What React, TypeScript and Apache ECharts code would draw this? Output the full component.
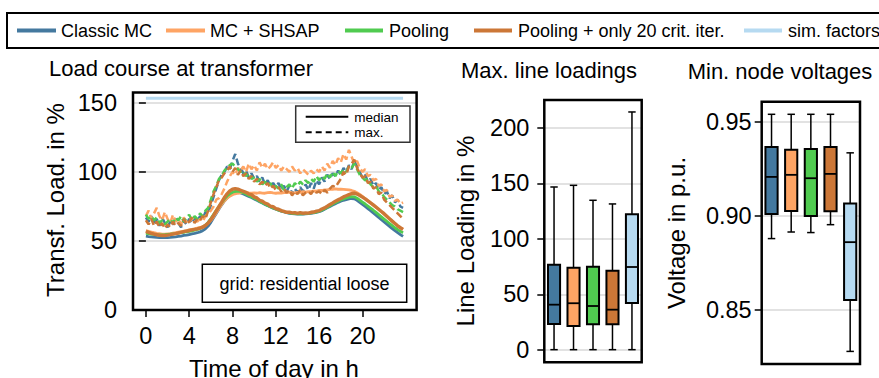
import React, { useEffect, useRef } from "react";
import * as echarts from "echarts";

// ---------- data ----------
const methods = ["Classic MC", "MC + SHSAP", "Pooling", "Pooling + only 20 crit. iter.", "sim. factors"];
const methodColors = ["#44799f", "#fea464", "#50cb50", "#cc7737", "#b6daf1"];

const xTickValues = [0, 4, 8, 12, 16, 20];
const loadTickValues = [0, 50, 100, 150];
const lineTickValues = [0, 50, 100, 150, 200];
const voltTickValues = [0.85, 0.9, 0.95];

// transformer load in % at 15-min resolution (96 steps, 0:00 .. 23:45)
const classicMed = [
  53.5, 53.2, 53.0, 52.8, 52.6, 52.5, 52.4, 52.4, 52.5, 52.6, 52.8, 53.0,
  53.3, 53.6, 54.0, 54.3, 54.7, 55.1, 55.5, 56.0, 56.6, 57.5, 58.8, 60.8,
  63.5, 66.8, 70.0, 73.2, 76.2, 79.0, 81.2, 83.0, 84.2, 85.0, 85.2, 84.8,
  84.0, 83.2, 82.3, 81.5, 80.5, 79.5, 78.5, 77.5, 76.5, 75.5, 74.7, 73.8,
  73.0, 72.3, 71.6, 71.0, 70.5, 70.0, 69.8, 69.6, 69.5, 69.5, 69.4, 69.6,
  69.8, 70.0, 70.3, 70.7, 71.2, 72.0, 73.0, 74.0, 75.0, 76.0, 77.0, 78.0,
  78.8, 79.5, 80.0, 80.5, 80.8, 80.6, 79.5, 78.0, 76.5, 75.0, 73.5, 72.0,
  70.3, 68.7, 67.0, 65.4, 63.8, 62.2, 60.6, 59.0, 57.5, 56.0, 54.6, 53.3,
];
const shsapMed = [
  57.5, 57.0, 56.5, 56.0, 55.6, 55.3, 55.0, 55.0, 55.2, 55.4, 55.7, 56.0,
  56.4, 56.8, 57.2, 57.6, 58.0, 58.4, 58.8, 59.3, 59.8, 60.5, 61.5, 63.0,
  65.0, 67.5, 70.5, 73.5, 76.5, 79.0, 81.0, 82.5, 83.5, 84.2, 84.6, 84.8,
  85.0, 85.3, 84.8, 84.6, 84.9, 84.6, 85.1, 84.7, 84.6, 85.0, 85.2, 84.8,
  84.6, 84.9, 84.7, 85.1, 85.0, 85.4, 85.0, 84.8, 85.2, 85.3, 85.7, 85.4,
  85.8, 85.8, 86.3, 86.2, 86.6, 86.6, 87.1, 87.0, 87.4, 87.4, 87.7, 87.5,
  87.6, 87.4, 87.2, 87.0, 86.6, 86.0, 85.0, 83.8, 82.4, 80.8, 79.2, 77.6,
  76.0, 74.4, 72.8, 71.2, 69.5, 67.8, 66.0, 64.3, 62.6, 61.0, 59.6, 58.5,
];
const poolMed = [
  55.5, 55.3, 55.0, 54.8, 54.6, 54.5, 54.5, 54.6, 54.8, 55.0, 55.2, 55.4,
  55.7, 56.0, 56.3, 56.7, 57.0, 57.4, 57.9, 58.4, 59.0, 60.0, 61.4, 63.5,
  66.2, 69.2, 72.2, 75.0, 77.8, 80.4, 82.6, 84.2, 85.3, 86.0, 86.2, 85.8,
  85.0, 84.0, 83.0, 82.0, 81.0, 80.0, 78.8, 77.8, 76.8, 75.8, 74.8, 74.0,
  73.2, 72.4, 71.8, 71.2, 70.7, 70.3, 70.0, 69.8, 69.7, 69.6, 69.6, 69.8,
  70.0, 70.3, 70.6, 71.0, 71.6, 72.4, 73.4, 74.5, 75.6, 76.7, 77.8, 78.8,
  79.7, 80.5, 81.2, 81.8, 82.2, 82.0, 81.0, 79.6, 78.2, 76.8, 75.3, 73.8,
  72.3, 70.7, 69.1, 67.5, 65.9, 64.3, 62.7, 61.1, 59.6, 58.2, 57.0, 56.0,
];
const pool20Med = [
  57.0, 56.2, 55.5, 55.0, 54.5, 54.2, 54.0, 54.0, 54.3, 54.6, 55.0, 55.4,
  55.8, 56.3, 56.8, 57.2, 57.6, 58.0, 58.4, 58.8, 59.3, 60.0, 61.2, 63.0,
  65.5, 68.5, 71.8, 75.0, 78.2, 81.5, 84.2, 86.3, 87.5, 88.0, 87.6, 86.8,
  86.0, 85.2, 84.0, 83.6, 82.0, 81.2, 79.5, 78.9, 77.5, 76.8, 75.2, 74.9,
  73.5, 73.0, 72.0, 71.4, 70.8, 70.9, 70.4, 70.6, 70.0, 70.5, 70.1, 70.3,
  70.2, 70.8, 71.0, 71.6, 72.0, 73.2, 74.0, 75.2, 76.5, 77.6, 78.8, 79.8,
  80.8, 82.0, 82.8, 83.6, 84.3, 84.6, 84.0, 83.0, 81.8, 80.5, 79.0, 77.6,
  76.2, 74.6, 73.0, 71.4, 69.8, 68.0, 66.2, 64.4, 62.7, 61.0, 59.6, 58.4,
];
const classicMax = [
  67, 64, 68, 62, 66, 61, 67, 63, 60, 64, 62, 66,
  63, 60, 65, 62, 66, 63, 67, 64, 68, 66, 71, 70,
  76, 82, 88, 94, 98, 100, 104, 102, 108, 113, 106, 103,
  99, 101, 96, 99, 95, 97, 93, 96, 91, 94, 90, 92,
  89, 92, 87, 90, 86, 90, 84, 88, 85, 89, 86, 91,
  87, 92, 88, 94, 91, 96, 93, 98, 95, 99, 97, 101,
  98, 103, 100, 105, 102, 108, 104, 100, 96, 98, 93, 95,
  90, 92, 87, 89, 84, 86, 81, 83, 78, 80, 75, 74,
];
const shsapMax = [
  68, 72, 66, 70, 74, 68, 65, 71, 66, 63, 69, 64,
  66, 62, 67, 64, 63, 67, 65, 64, 66, 64, 68, 70,
  72, 75, 80, 81, 84, 88, 93, 97, 100, 98, 103, 101,
  104, 100, 106, 102, 105, 101, 107, 103, 106, 102, 104, 107,
  103, 105, 101, 104, 102, 100, 104, 101, 103, 99, 102, 100,
  98, 101, 99, 102, 100, 104, 101, 106, 103, 108, 105, 110,
  107, 113, 109, 116, 111, 106, 108, 103, 100, 102, 97, 98,
  94, 95, 90, 91, 86, 87, 82, 83, 79, 80, 77, 78,
];
const poolMax = [
  69, 66, 68, 65, 67, 63, 65, 62, 64, 66, 63, 67,
  65, 68, 64, 67, 69, 65, 68, 66, 70, 68, 72, 74,
  80, 86, 90, 95, 97, 101, 103, 105, 106, 104, 102, 100,
  101, 97, 99, 95, 96, 93, 95, 91, 93, 90, 92, 88,
  90, 88, 91, 87, 89, 91, 88, 92, 90, 93, 91, 94,
  92, 95, 93, 97, 94, 97, 95, 99, 96, 100, 97, 101,
  99, 102, 100, 104, 103, 106, 102, 98, 96, 94, 95, 91,
  89, 90, 86, 85, 82, 80, 78, 76, 75, 73, 72, 71,
];
const pool20Max = [
  65, 62, 66, 61, 64, 60, 63, 59, 62, 60, 64, 61,
  63, 61, 66, 62, 64, 67, 63, 66, 65, 68, 66, 72,
  78, 84, 89, 94, 96, 99, 101, 104, 100, 103, 98, 101,
  97, 99, 95, 97, 93, 95, 91, 93, 90, 92, 88, 90,
  87, 89, 86, 88, 85, 87, 83, 86, 84, 87, 83, 85,
  86, 84, 87, 85, 86, 84, 87, 85, 88, 90, 89, 92,
  95, 100, 98, 104, 106, 109, 103, 99, 96, 97, 92, 93,
  88, 89, 84, 85, 80, 78, 76, 74, 72, 70, 68, 66,
];
const simFactorLoad = 153.4;

// box statistics: [lower whisker, Q1, median, Q3, upper whisker]
const lineLoadBoxes = [
  [0, 23.2, 40.6, 76.7, 146.8],
  [0, 21.4, 41.9, 74.0, 148.3],
  [0, 22.9, 39.4, 74.9, 134.8],
  [0, 22.9, 36.1, 71.3, 131.5],
  [0, 42.1, 74.6, 122.2, 214.5],
];
const voltageBoxes = [
  [0.8878, 0.9009, 0.9206, 0.9365, 0.9539],
  [0.8913, 0.9025, 0.9217, 0.935, 0.9539],
  [0.891, 0.8998, 0.9199, 0.9355, 0.9539],
  [0.8952, 0.9023, 0.9222, 0.9365, 0.9539],
  [0.8278, 0.8551, 0.8859, 0.9064, 0.9334],
];

// ---------- layout ----------
const FONT = "'Liberation Sans', Arial, Helvetica, sans-serif";
const G0 = { left: 133, top: 92.5, width: 283.6, height: 217.5 };
const G1 = { left: 544.3, top: 100, width: 97.4, height: 262.3 };
const G2 = { left: 761.7, top: 101.7, width: 98.3, height: 262.3 };

const hours = classicMed.map((_, i) => i / 4);
const toXY = (arr: number[]) => arr.map((v, i) => [hours[i], v]);

function boxRender(params: any, api: any) {
  const idx = api.value(0);
  const lo = api.coord([idx, api.value(1)]);
  const q1 = api.coord([idx, api.value(2)]);
  const med = api.coord([idx, api.value(3)]);
  const q3 = api.coord([idx, api.value(4)]);
  const hi = api.coord([idx, api.value(5)]);
  const band = api.size([1, 0])[0];
  const hw = band * 0.31;
  const cw = band * 0.19;
  const x = lo[0];
  const ws = { stroke: "#000", lineWidth: 1.5 };
  return {
    type: "group",
    children: [
      { type: "line", shape: { x1: x, y1: hi[1], x2: x, y2: q3[1] }, style: ws },
      { type: "line", shape: { x1: x, y1: q1[1], x2: x, y2: lo[1] }, style: ws },
      { type: "line", shape: { x1: x - cw, y1: hi[1], x2: x + cw, y2: hi[1] }, style: ws },
      { type: "line", shape: { x1: x - cw, y1: lo[1], x2: x + cw, y2: lo[1] }, style: ws },
      {
        type: "rect",
        shape: { x: x - hw, y: q3[1], width: 2 * hw, height: q1[1] - q3[1] },
        style: { fill: methodColors[idx], stroke: "#000", lineWidth: 2 },
      },
      { type: "line", shape: { x1: x - hw, y1: med[1], x2: x + hw, y2: med[1] }, style: { stroke: "#000", lineWidth: 1.8 } },
    ],
  };
}

function txt(text: string, x: number, y: number, size: number, opts: any = {}) {
  return {
    type: "text",
    x,
    y,
    rotation: opts.rotation || 0,
    z: 110,
    style: {
      text,
      fill: "#000",
      fontSize: size,
      fontFamily: FONT,
      align: opts.align || "center",
      verticalAlign: "middle",
    },
  };
}

export default function App() {
  const ref = useRef<HTMLDivElement>(null);
  useEffect(() => {
    if (!ref.current) return;
    const chart = echarts.init(ref.current, null, { renderer: "svg" });

    const labelStyle = { color: "#000", fontSize: 23.5, fontFamily: FONT };
    const tickStyle = { show: true, length: 7, lineStyle: { color: "#000", width: 1.5 } };
    const gridLine = { show: true, lineStyle: { color: "#d9d9d9", width: 1.5 } };

    const lineSeries: any[] = [];
    const medArrs = [classicMed, shsapMed, poolMed, pool20Med];
    const maxArrs = [classicMax, shsapMax, poolMax, pool20Max];
    lineSeries.push({
      type: "line",
      name: methods[4],
      xAxisIndex: 0,
      yAxisIndex: 0,
      data: [[hours[0], simFactorLoad], [hours[hours.length - 1], simFactorLoad]],
      showSymbol: false,
      symbol: "none",
      lineStyle: { color: methodColors[4], width: 3 },
      z: 2,
    });
    for (let k = 0; k < 4; k++) {
      lineSeries.push({
        type: "line",
        name: methods[k],
        xAxisIndex: 0,
        yAxisIndex: 0,
        data: toXY(medArrs[k]),
        showSymbol: false,
        symbol: "none",
        lineStyle: { color: methodColors[k], width: k === 3 ? 3.4 : 2.8 },
        z: 3 + k * 2,
      });
      lineSeries.push({
        type: "line",
        name: methods[k],
        xAxisIndex: 0,
        yAxisIndex: 0,
        data: toXY(maxArrs[k]),
        showSymbol: false,
        symbol: "none",
        lineStyle: { color: methodColors[k], width: 2.5, type: [7, 3.5] },
        z: 4 + k * 2,
      });
    }

    const legendItems = [
      { x1: 17, x2: 56, tx: 61 },
      { x1: 166, x2: 205, tx: 210 },
      { x1: 345, x2: 383, tx: 389 },
      { x1: 474, x2: 512, tx: 518 },
      { x1: 744, x2: 782, tx: 788 },
    ];
    const legendGraphics: any[] = [
      {
        type: "rect",
        z: 100,
        shape: { x: 7, y: 13, width: 900, height: 35 },
        style: { fill: "#fff", stroke: "#000", lineWidth: 2 },
      },
    ];
    legendItems.forEach((it, i) => {
      legendGraphics.push({
        type: "line",
        z: 105,
        shape: { x1: it.x1, y1: 30.5, x2: it.x2, y2: 30.5 },
        style: { stroke: methodColors[i], lineWidth: 4 },
      });
      legendGraphics.push(txt(methods[i], it.tx, 30.5, 18, { align: "left" }));
    });

    const frame = (g: any) => ({
      type: "rect",
      z: 100,
      shape: { x: g.left, y: g.top, width: g.width, height: g.height },
      style: { fill: "none", stroke: "#000", lineWidth: 2.5 },
    });

    const option: any = {
      animation: false,
      backgroundColor: "#fff",
      textStyle: { fontFamily: FONT },
      grid: [
        { ...G0, containLabel: false },
        { ...G1, containLabel: false },
        { ...G2, containLabel: false },
      ],
      xAxis: [
        {
          type: "value",
          gridIndex: 0,
          min: -1.19,
          max: 25.0,
          axisLine: { show: false },
          axisTick: { ...tickStyle, customValues: xTickValues },
          axisLabel: { ...labelStyle, margin: 14, customValues: xTickValues },
          splitLine: { show: false },
        },
        {
          type: "category",
          gridIndex: 1,
          data: methods,
          axisLine: { show: false },
          axisTick: { show: false },
          axisLabel: { show: false },
          splitLine: { show: false },
        },
        {
          type: "category",
          gridIndex: 2,
          data: methods,
          axisLine: { show: false },
          axisTick: { show: false },
          axisLabel: { show: false },
          splitLine: { show: false },
        },
      ],
      yAxis: [
        {
          type: "value",
          gridIndex: 0,
          min: 0,
          max: 157.6,
          interval: 50,
          axisLine: { show: false },
          axisTick: { ...tickStyle, customValues: loadTickValues },
          axisLabel: { ...labelStyle, margin: 16, customValues: loadTickValues },
          splitLine: gridLine,
        },
        {
          type: "value",
          gridIndex: 1,
          min: -11.4,
          max: 225.3,
          splitNumber: 5,
          axisLine: { show: false },
          axisTick: { ...tickStyle, customValues: lineTickValues },
          axisLabel: { ...labelStyle, margin: 15, customValues: lineTickValues },
          splitLine: gridLine,
        },
        {
          type: "value",
          gridIndex: 2,
          min: 0.8211,
          max: 0.9606,
          splitNumber: 3,
          axisLine: { show: false },
          axisTick: { ...tickStyle, customValues: voltTickValues },
          axisLabel: {
            ...labelStyle,
            margin: 10,
            customValues: voltTickValues,
            formatter: (v: number) => v.toFixed(2),
          },
          splitLine: gridLine,
        },
      ],
      series: [
        ...lineSeries,
        {
          type: "custom",
          name: "Max. line loadings",
          xAxisIndex: 1,
          yAxisIndex: 1,
          renderItem: boxRender,
          encode: { x: 0, y: [1, 2, 3, 4, 5] },
          data: lineLoadBoxes.map((b, i) => [i, ...b]),
          z: 5,
        },
        {
          type: "custom",
          name: "Min. node voltages",
          xAxisIndex: 2,
          yAxisIndex: 2,
          renderItem: boxRender,
          encode: { x: 0, y: [1, 2, 3, 4, 5] },
          data: voltageBoxes.map((b, i) => [i, ...b]),
          z: 5,
        },
      ],
      graphic: [
        ...legendGraphics,
        frame(G0),
        frame(G1),
        frame(G2),
        txt("Load course at transformer", 181, 68.5, 22),
        txt("Max. line loadings", 549, 70, 22),
        txt("Min. node voltages", 780, 71, 22),
        txt("Transf. Load. in %", 55, 200, 24, { rotation: Math.PI / 2 }),
        txt("Line Loading in %", 465, 231, 24, { rotation: Math.PI / 2 }),
        txt("Voltage in p.u.", 676, 233, 24, { rotation: Math.PI / 2 }),
        txt("Time of day in h", 274, 368, 24),
        // inner legend
        {
          type: "rect",
          z: 100,
          shape: { x: 295.7, y: 106, width: 114.3, height: 36.3 },
          style: { fill: "#fff", stroke: "#333", lineWidth: 1.5 },
        },
        {
          type: "line",
          z: 105,
          shape: { x1: 305.7, y1: 116.7, x2: 348.3, y2: 116.7 },
          style: { stroke: "#000", lineWidth: 2 },
        },
        {
          type: "line",
          z: 105,
          shape: { x1: 305.7, y1: 132.3, x2: 348.3, y2: 132.3 },
          style: { stroke: "#000", lineWidth: 2, lineDash: [6, 4] },
        },
        txt("median", 354.3, 117, 13.5, { align: "left" }),
        txt("max.", 354.3, 132.5, 13.5, { align: "left" }),
        // grid annotation box
        {
          type: "rect",
          z: 100,
          shape: { x: 202.3, y: 264.3, width: 204.4, height: 38 },
          style: { fill: "#fff", stroke: "#000", lineWidth: 1.5 },
        },
        txt("grid: residential loose", 304.5, 283.5, 18),
      ],
    };
    chart.setOption(option);
    return () => chart.dispose();
  }, []);
  return (
    <div
      ref={ref}
      style={{ position: "absolute", left: 0, top: 0, width: 879, height: 378, background: "#fff" }}
    />
  );
}
